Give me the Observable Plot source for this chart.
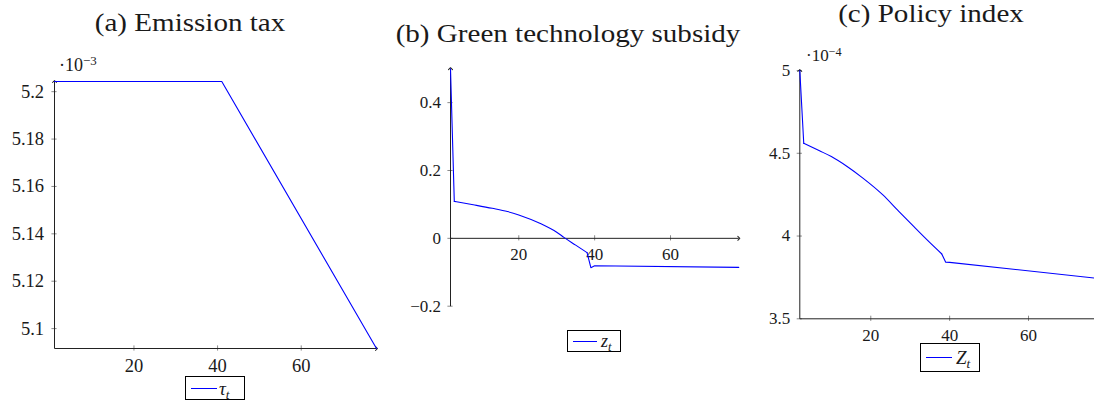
<!DOCTYPE html>
<html><head><meta charset="utf-8">
<script src="https://cdn.jsdelivr.net/npm/d3@7"></script>
<script src="https://cdn.jsdelivr.net/npm/@observablehq/plot@0.6"></script>
<style>
html,body{margin:0;padding:0;background:#fff;}
body{width:1094px;height:404px;overflow:hidden;position:relative;font-family:'Liberation Serif','Times New Roman',serif;color:#1a1a1a;}
.title{position:absolute;white-space:nowrap;font-size:25.5px;line-height:1;font-family:'Liberation Serif','Times New Roman',serif;}
.expo{position:absolute;white-space:nowrap;line-height:1;font-family:'Liberation Serif','Times New Roman',serif;}
.expo sup{font-size:0.72em;position:relative;top:-0.45em;vertical-align:baseline;}
.legend{position:absolute;border:1px solid #000;box-sizing:border-box;background:#fff;}
.legend .ln{position:absolute;height:1px;background:#0000ff;}
.legend .lb{position:absolute;font-style:italic;line-height:1;white-space:nowrap;font-family:'Liberation Serif','Times New Roman',serif;}
.legend sub{font-size:0.7em;position:relative;top:0.3em;vertical-align:baseline;font-style:italic;}
svg.panel{position:absolute;top:0;}
</style>
</head><body>
<div class="title" style="left:189.5px;top:10px;transform:translateX(-50%) scaleX(1.14);transform-origin:50% 0;">(a) Emission tax</div>
<div class="title" style="left:568px;top:21px;transform:translateX(-50%) scaleX(1.14);transform-origin:50% 0;">(b) Green technology subsidy</div>
<div class="title" style="left:930.5px;top:1px;transform:translateX(-50%) scaleX(1.14);transform-origin:50% 0;">(c) Policy index</div>
<div class="expo" style="left:59px;top:56px;font-size:18px;">·10<sup>−3</sup></div>
<div class="expo" style="left:806px;top:47px;font-size:17px;">·10<sup>−4</sup></div>
<div class="legend" style="left:185px;top:376px;width:60px;height:24px;"><span class="ln" style="left:5px;top:11px;width:26px;"></span><span class="lb" style="left:33px;top:2px;font-size:19px;">τ<sub>t</sub></span></div>
<div class="legend" style="left:567px;top:330px;width:54px;height:22px;"><span class="ln" style="left:5px;top:10px;width:24px;"></span><span class="lb" style="left:33px;top:1px;font-size:18px;">z<sub>t</sub></span></div>
<div class="legend" style="left:920px;top:343px;width:60px;height:29px;"><span class="ln" style="left:5px;top:13px;width:26px;"></span><span class="lb" style="left:35px;top:4px;font-size:19px;">Z<sub>t</sub></span></div>
<script>
// ---- Panel (a): Emission tax (values ×10^-3) ----
const tTax = [1, 41, 78];
const tauTax = [5.2043, 5.2043, 5.0916];
const xTicksA = [20, 40, 60];
const yTicksA = [5.1, 5.12, 5.14, 5.16, 5.18, 5.2];
const xDomA = [1, 78];
const yDomA = [5.0916, 5.2043];

// ---- Panel (b): Green technology subsidy ----
const tSub = [2, 3, 8, 13, 17, 20, 26, 30, 32, 35, 38, 39, 40, 78];
const zSub = [0.5, 0.109, 0.099, 0.0885, 0.079, 0.069, 0.042, 0.018, 0.002, -0.02, -0.042, -0.0865, -0.081, -0.0855];
const xTicksB = [20, 40, 60];
const yTicksB = [-0.2, 0, 0.2, 0.4];
const xDomB = [2, 78];
const yDomB = [-0.2, 0.5];

// ---- Panel (c): Policy index (values ×10^-4) ----
const tIdx = [2, 3, 7, 10, 14, 18, 23, 27, 31, 35, 38, 39, 40, 78];
const zIdx = [5.0, 4.56, 4.515, 4.48, 4.42, 4.35, 4.25, 4.152, 4.055, 3.96, 3.892, 3.842, 3.841, 3.743];
const xTicksC = [20, 40, 60];
const yTicksC = [3.5, 4, 4.5, 5];
const xDomC = [2, 78];
const yDomC = [3.5, 5];

// smooth (curved) stretch of each path between the jumps
const smoothRange = [3, 38];

const FONT = "'Liberation Serif','Times New Roman',serif";
const fmt = d => d < 0 ? "\u2212" + Math.abs(d) : String(d);

function panel(c) {
  const pw = c.width - c.ml - c.mr, ph = c.height - c.mt - c.mb;
  const hx = 2.6 * (c.yDom[1] - c.yDom[0]) / ph;
  const hy = 2.6 * (c.xDom[1] - c.xDom[0]) / pw;
  const rows = c.t.map((t, i) => ({t, v: c.v[i]}));
  let straight = rows.map(r => ({...r, seg: "all"}));
  let smooth = [];
  if (c.smooth) {
    const [s0, s1] = c.smooth;
    smooth = rows.filter(r => r.t >= s0 && r.t <= s1);
    straight = [
      ...rows.filter(r => r.t <= s0).map(r => ({...r, seg: "head"})),
      ...rows.filter(r => r.t >= s1).map(r => ({...r, seg: "tail"}))
    ];
  }
  const ax = c.xAxisY, ay = c.yAxisX;
  const font = {fontFamily: FONT, fontSize: c.fs, fill: "#1a1a1a"};
  const svg = Plot.plot({
    width: c.width, height: c.height,
    marginLeft: c.ml, marginRight: c.mr, marginTop: c.mt, marginBottom: c.mb,
    x: {domain: c.xDom, axis: null},
    y: {domain: c.yDom, axis: null},
    style: {background: "transparent", overflow: "visible", fontFamily: FONT},
    marks: [
      Plot.ruleX(c.xTicks, {x: d => d, y1: () => ax - hx, y2: () => ax + hx, stroke: "#8a8a8a", strokeWidth: 1}),
      Plot.ruleY(c.yTicks, {y: d => d, x1: () => ay - hy, x2: () => ay + hy, stroke: "#8a8a8a", strokeWidth: 1}),
      Plot.link([0], {x1: () => c.xDom[0], x2: () => c.xDom[1], y1: () => ax, y2: () => ax, stroke: "#222", strokeWidth: 1, markerEnd: "arrow"}),
      Plot.link([0], {x1: () => ay, x2: () => ay, y1: () => c.yDom[0], y2: () => c.yDom[1], stroke: "#222", strokeWidth: 1, markerEnd: "arrow"}),
      Plot.text(c.xTicks, {x: d => d, y: () => ax, dy: c.xdy, text: fmt, ...font}),
      Plot.text(c.yTicks, {y: d => d, x: () => ay, dx: -c.ydx, textAnchor: "end", text: fmt, ...font}),
      Plot.line(straight, {x: "t", y: "v", z: "seg", stroke: "#0000ff", strokeWidth: 1.1}),
      Plot.line(smooth, {x: "t", y: "v", stroke: "#0000ff", strokeWidth: 1.1, curve: "monotone-x"})
    ]
  });
  svg.classList.add("panel");
  svg.style.left = c.left + "px";
  document.body.appendChild(svg);
}

panel({left: 0, width: 390, height: 404, ml: 54, mr: 14, mt: 81, mb: 56,
  t: tTax, v: tauTax, xDom: xDomA, yDom: yDomA, xTicks: xTicksA, yTicks: yTicksA,
  xAxisY: yDomA[0], yAxisX: xDomA[0], fs: 18.5, xdy: 18, ydx: 10.5, smooth: null});
panel({left: 380, width: 370, height: 404, ml: 70, mr: 11.7, mt: 68.2, mb: 98.3,
  t: tSub, v: zSub, xDom: xDomB, yDom: yDomB, xTicks: xTicksB, yTicks: yTicksB,
  xAxisY: 0, yAxisX: xDomB[0], fs: 17, xdy: 16, ydx: 9.5, smooth: smoothRange});
panel({left: 740, width: 362, height: 404, ml: 59.3, mr: 3, mt: 70, mb: 85.7,
  t: tIdx, v: zIdx, xDom: xDomC, yDom: yDomC, xTicks: xTicksC, yTicks: yTicksC,
  xAxisY: yDomC[0], yAxisX: xDomC[0], fs: 17, xdy: 17, ydx: 9.5, smooth: smoothRange});
</script>
</body></html>
